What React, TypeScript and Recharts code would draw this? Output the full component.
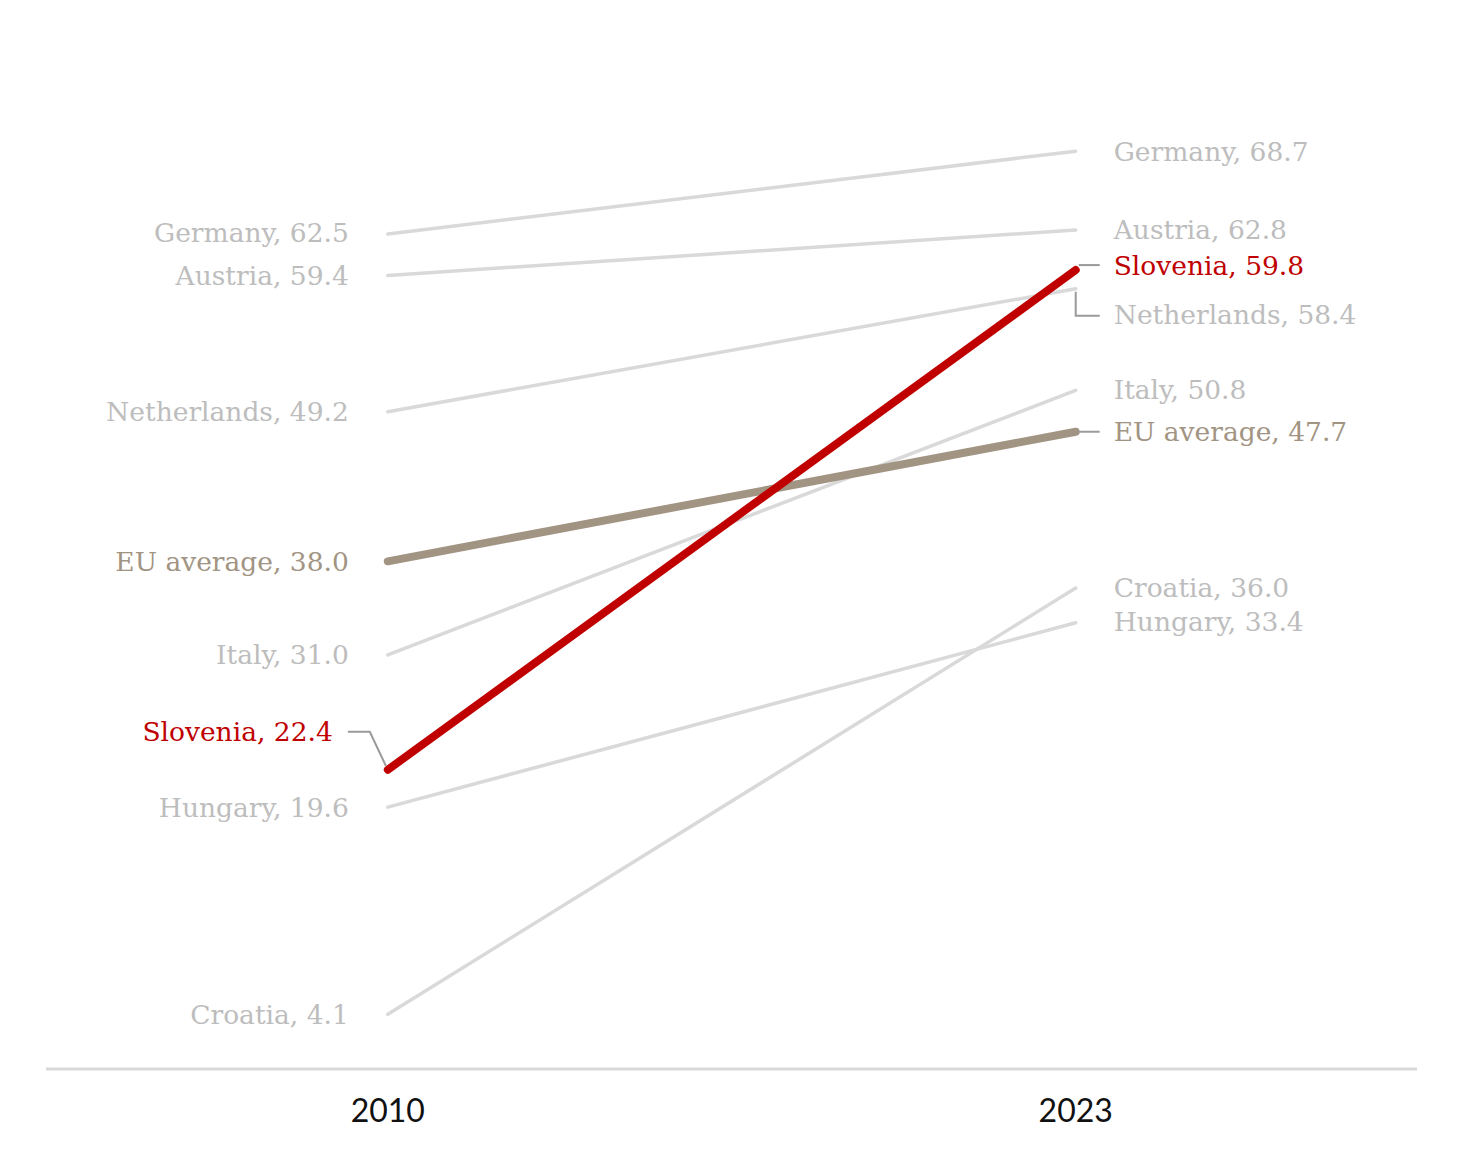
import React from "react";
import { LineChart, Line, XAxis, YAxis, LabelList } from "recharts";

const years = [2010, 2023];
const countries = ["Germany", "Austria", "Netherlands", "Italy", "Croatia", "Hungary", "EU average", "Slovenia"];
const germany = [62.5, 68.7];
const austria = [59.4, 62.8];
const netherlands = [49.2, 58.4];
const italy = [31.0, 50.8];
const croatia = [4.1, 36.0];
const hungary = [19.6, 33.4];
const euAverage = [38.0, 47.7];
const slovenia = [22.4, 59.8];
const seriesValues = [germany, austria, netherlands, italy, croatia, hungary, euAverage, slovenia];
const yearTicks = [2010, 2023];

const data = years.map((year, i) => {
  const row: Record<string, number> = { year };
  countries.forEach((c, j) => {
    row[c] = seriesValues[j][i];
  });
  return row;
});

const GRAY_LINE = "#d9d9d9";
const GRAY_TEXT = "#bdbdbd";
const EU_COLOR = "#a29483";
const RED = "#c00000";
const LEADER = "#9a9a9a";
const FONT = "'DejaVu Serif', serif";
const FONT_SIZE = 26.5;

type Style = {
  stroke: string;
  width: number;
  text: string;
  leftDy?: number;
  rightDy?: number;
  leftLeader?: (x: number, y: number) => string;
  rightLeader?: (x: number, y: number) => string;
};

const styles: Record<string, Style> = {
  Germany: { stroke: GRAY_LINE, width: 3.5, text: GRAY_TEXT, leftDy: -2 },
  Austria: { stroke: GRAY_LINE, width: 3.5, text: GRAY_TEXT, rightDy: -1 },
  Netherlands: {
    stroke: GRAY_LINE,
    width: 3.5,
    text: GRAY_TEXT,
    rightDy: 26,
    rightLeader: (x, y) => `M${x},${y + 3} V${y + 27} H${x + 24}`,
  },
  Italy: { stroke: GRAY_LINE, width: 3.5, text: GRAY_TEXT, rightDy: -1 },
  Croatia: { stroke: GRAY_LINE, width: 3.5, text: GRAY_TEXT, rightDy: -1 },
  Hungary: { stroke: GRAY_LINE, width: 3.5, text: GRAY_TEXT, rightDy: -1 },
  "EU average": {
    stroke: EU_COLOR,
    width: 8,
    text: EU_COLOR,
    rightLeader: (x, y) => `M${x + 3},${y} H${x + 24}`,
  },
  Slovenia: {
    stroke: RED,
    width: 8,
    text: RED,
    leftDy: -38,
    rightDy: -5,
    leftLeader: (x, y) => `M${x - 40},${y - 38} H${x - 18} L${x - 2},${y - 4}`,
    rightLeader: (x, y) => `M${x + 3},${y - 5} H${x + 24}`,
  },
};

const makeLabel = (name: string) => (props: any) => {
  const { x, y, value, index } = props;
  if (x == null || y == null) return null;
  const s = styles[name];
  const isLeft = index === 0;
  const dy = (isLeft ? s.leftDy : s.rightDy) ?? 0;
  const leader = isLeft ? s.leftLeader : s.rightLeader;
  const tx = isLeft ? x - (name === "Slovenia" ? 55 : 39) : x + 38;
  return (
    <g>
      {leader && <path d={leader(x, y)} stroke={LEADER} strokeWidth={2} fill="none" />}
      <text
        x={tx}
        y={y + dy}
        dy="0.36em"
        textAnchor={isLeft ? "end" : "start"}
        fill={s.text}
        fontFamily={FONT}
        fontSize={FONT_SIZE}
      >
        {`${name}, ${Number(value).toFixed(1)}`}
      </text>
    </g>
  );
};

export default function App() {
  return (
    <div style={{ width: 1441, height: 1140, background: "#fff" }}>
      <LineChart
        width={1441}
        height={1140}
        data={data}
        margin={{ top: 59, right: 32, bottom: 19, left: 38 }}
      >
        <XAxis
          type="number"
          dataKey="year"
          domain={[2003.54, 2029.45]}
          ticks={yearTicks}
          allowDataOverflow
          axisLine={{ stroke: "#d9d9d9", strokeWidth: 3 }}
          tickLine={false}
          tickSize={0}
          tickMargin={30}
          height={60}
          tick={{ fill: "#111", fontSize: 32, fontFamily: "Lato, sans-serif" }}
        />
        <YAxis hide domain={[0, 75]} />
        {countries.map((c) => (
          <Line
            key={c}
            type="linear"
            dataKey={c}
            stroke={styles[c].stroke}
            strokeWidth={styles[c].width}
            strokeLinecap="round"
            dot={false}
            activeDot={false}
            isAnimationActive={false}
          >
            <LabelList dataKey={c} content={makeLabel(c)} />
          </Line>
        ))}
      </LineChart>
    </div>
  );
}
